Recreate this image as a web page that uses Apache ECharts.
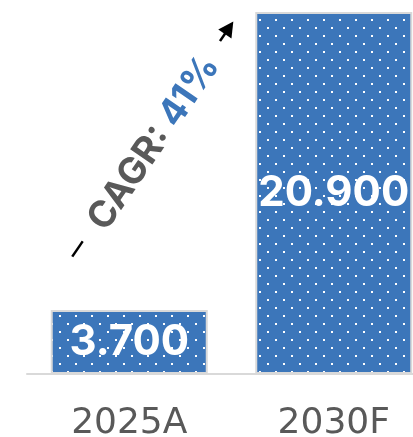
<!DOCTYPE html>
<html>
<head>
<meta charset="UTF-8">
<script src="https://cdn.jsdelivr.net/npm/echarts@6/dist/echarts.min.js"></script>
<style>html,body{margin:0;padding:0;background:#fff;}</style>
</head>
<body>
<div id="main" style="width:413px;height:437px;"></div>
<script>
// data
var categories = ['2025A', '2030F'];
var values = [3.7, 20.9];
var cagrText = 'CAGR: ';
var cagrValue = '41%';

var blue = '#3c76ba';
var grey = '#595959';

// dotted fill like the original
function dotPattern() {
    var c = document.createElement('canvas');
    c.width = 16; c.height = 16;
    var ctx = c.getContext('2d');
    ctx.fillStyle = blue;
    ctx.fillRect(0, 0, 16, 16);
    ctx.fillStyle = '#ffffff';
    ctx.fillRect(3, 3, 2, 2);
    ctx.fillRect(11, 11, 2, 2);
    return c;
}

var myChart = echarts.init(document.getElementById('main'));
var option = {
    animation: false,
    grid: { left: 27, top: 12, width: 409, bottom: 63, containLabel: false, outerBoundsMode: 'none' },
    xAxis: {
        type: 'category',
        data: categories,
        axisLine: { lineStyle: { color: '#d9d9d9', width: 2 } },
        axisTick: { show: false },
        axisLabel: { color: grey, fontSize: 36, fontFamily: 'DejaVu Sans', margin: 32 }
    },
    yAxis: {
        type: 'value', min: 0, max: 20.9, show: false,
        splitLine: { show: false }
    },
    series: [{
        type: 'bar',
        data: values,
        barWidth: 157,
        itemStyle: {
            color: { image: dotPattern(), repeat: 'repeat' },
            borderColor: '#d9d9d9',
            borderWidth: 2
        },
        label: {
            show: true,
            position: 'inside',
            color: '#fff',
            fontSize: 42,
            fontWeight: 'bold',
            fontFamily: 'Inter',
            formatter: function (p) { return p.value.toFixed(3); }
        }
    }],
    graphic: [{
        type: 'group',
        x: 152.5, y: 139.5,
        rotation: 0.97,
        children: [{
            type: 'line',
            shape: { x1: -142, y1: 0, x2: 134, y2: 0 },
            style: { stroke: '#000', lineWidth: 2.5 }
        }, {
            type: 'polygon',
            shape: { points: [[143, 0], [128, -8], [128, 8]] },
            style: { fill: '#000' }
        }, {
            type: 'text',
            x: -2, y: 3,
            style: {
                text: '{a|' + cagrText + '}{b|' + cagrValue + '}',
                align: 'center',
                verticalAlign: 'middle',
                backgroundColor: '#fff',
                padding: [0, 20],
                rich: {
                    a: { fontSize: 37, fontWeight: 'bold', fontFamily: 'Inter', fill: grey },
                    b: { fontSize: 37, fontWeight: 'bold', fontFamily: 'Inter', fill: blue }
                }
            }
        }]
    }]
};
myChart.setOption(option);
</script>
</body>
</html>
